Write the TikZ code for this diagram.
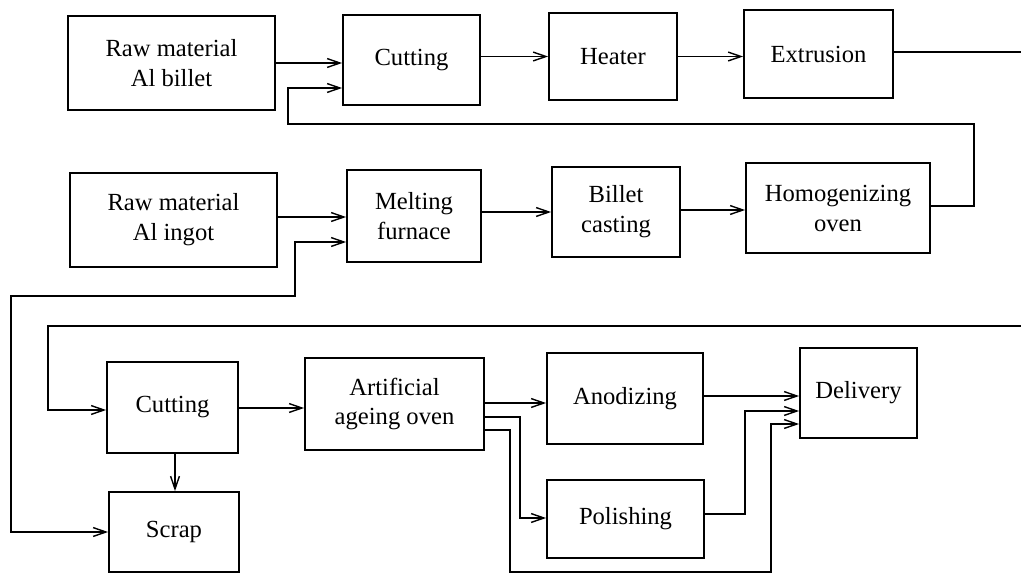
\documentclass[tikz,border=0pt]{standalone}
\usepackage{fontspec}
\setmainfont{Liberation Serif}
\usetikzlibrary{arrows.meta}
\tikzset{
  blk/.style={draw, line width=1.2pt, align=center, inner sep=0pt,
    font=\fontsize{17.5}{21.3}\selectfont},
  arr/.style={line width=1.2pt, -{Straight Barb[length=3.2mm,width=2.2mm,line width=1pt]}},
  ln/.style={line width=1.2pt},
  biarr/.style={line width=1.2pt, {Straight Barb[length=3.2mm,width=2.2mm,line width=1pt]}-{Straight Barb[length=3.2mm,width=2.2mm,line width=1pt]}}
}
\begin{document}
\begin{tikzpicture}[x=0.025cm,y=-0.025cm]
			\useasboundingbox (0,0) rectangle (1021,574);
			\node [blk,minimum width=5.175cm,minimum height=2.35cm] (rawB) at (171.5,63) {Raw material\\Al billet};
			\node [blk,minimum width=3.425cm,minimum height=2.25cm] (cutA) at (411.5,60) {Cutting};
			\node [blk,minimum width=3.2cm,minimum height=2.175cm] (heat) at (613,56.5) {Heater};
			\node [blk,minimum width=3.725cm,minimum height=2.2cm] (extr) at (818.5,54) {Extrusion};
			\node [blk,minimum width=5.175cm,minimum height=2.35cm] (rawI) at (173.5,220) {Raw material\\Al ingot};
			\node [blk,minimum width=3.35cm,minimum height=2.3cm] (melt) at (414,216) {Melting\\furnace};
			\node [blk,minimum width=3.2cm,minimum height=2.25cm] (cast) at (616,212) {Billet\\casting};
			\node [blk,minimum width=4.6cm,minimum height=2.25cm] (homo) at (838,208) {Homogenizing\\oven};
			\node [blk,minimum width=3.275cm,minimum height=2.275cm] (cutB) at (172.5,407.5) {Cutting};
			\node [blk,minimum width=3.25cm,minimum height=2cm] (scrap) at (174,532) {Scrap};
			\node [blk,minimum width=4.475cm,minimum height=2.3cm] (age) at (394.5,404) {Artificial\\ageing oven};
			\node [blk,minimum width=3.9cm,minimum height=2.275cm] (anod) at (625,398.5) {Anodizing};
			\node [blk,minimum width=3.925cm,minimum height=1.95cm] (pol) at (625.5,519) {Polishing};
			\node [blk,minimum width=2.925cm,minimum height=2.25cm] (deliv) at (858.5,393) {Delivery};
			\coordinate (outA) at (1021,52);
			\coordinate (outB) at (1021,326);
			\draw [arr] (rawB.east) -- (rawB.east -| cutA.west);
			\draw [arr] (cutA.east |- heat.west) -- (heat.west);
			\draw [arr] (heat.east) -- (heat.east -| extr.west);
			\draw [ln] (extr.east |- outA) -- (outA);
			\draw [arr] (homo.east |- 0,206) -- (974,206) -- (974,124) -- (288,124) -- (288,88) -- (cutA.west |- 0,88);
			\draw [arr] (rawI.east |- 0,217) -- (melt.west |- 0,217);
			\draw [arr] (melt.east |- 0,212) -- (cast.west |- 0,212);
			\draw [arr] (cast.east |- 0,210) -- (homo.west |- 0,210);
			\draw [biarr] (melt.west |- 0,242) -- (295,242) -- (295,296) -- (11,296) -- (11,532) -- (scrap.west |- 0,532);
			\draw [arr] (outB) -- (48,326) -- (48,410) -- (cutB.west |- 0,410);
			\draw [arr] (cutB.east |- 0,408) -- (age.west |- 0,408);
			\draw [arr] (cutB.south -| 175,0) -- (scrap.north -| 175,0);
			\draw [arr] (age.east |- 0,403) -- (anod.west |- 0,403);
			\draw [arr] (age.east |- 0,417) -- (520,417) -- (520,518) -- (pol.west |- 0,518);
			\draw [arr] (age.east |- 0,430) -- (510,430) -- (510,572) -- (771,572) -- (771,424) -- (deliv.west |- 0,424);
			\draw [arr] (anod.east |- 0,396) -- (deliv.west |- 0,396);
			\draw [arr] (pol.east |- 0,514) -- (745,514) -- (745,411) -- (deliv.west |- 0,411);
\end{tikzpicture}
\end{document}
